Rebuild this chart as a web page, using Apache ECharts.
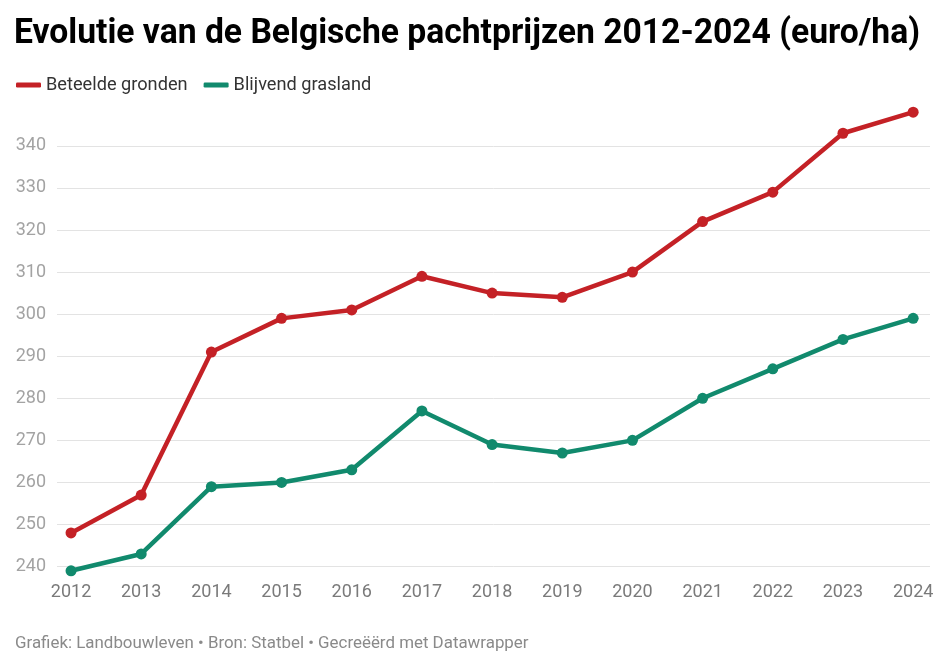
<!DOCTYPE html>
<html>
<head>
<meta charset="utf-8">
<script src="https://cdn.jsdelivr.net/npm/echarts@6/dist/echarts.min.js"></script>
<style>html,body{margin:0;padding:0;background:#fff;}#c{width:951px;height:669px;}</style>
</head>
<body>
<div id="c"></div>
<script>
var years = [2012,2013,2014,2015,2016,2017,2018,2019,2020,2021,2022,2023,2024];
var beteelde = [248,257,291,299,301,309,305,304,310,322,329,343,348];
var grasland = [239,243,259,260,263,277,269,267,270,280,287,294,299];
var yTicks = [240,250,260,270,280,290,300,310,320,330,340];
var titleText = 'Evolutie van de Belgische pachtprijzen 2012-2024 (euro/ha)';
var footerText = 'Grafiek: Landbouwleven \u2022 Bron: Statbel \u2022 Gecre\u00eb\u00ebrd met Datawrapper';

function pairs(vals){ return years.map(function(y,i){ return [y, vals[i]]; }); }

var cv = document.createElement('canvas').getContext('2d');
cv.font = 'bold 35px Roboto';
var tw = cv.measureText(titleText).width;
var sx = 906 / tw;

var chart = echarts.init(document.getElementById('c'), null, {renderer:'canvas'});
chart.setOption({
  backgroundColor:'#fff',
  animation:false,
  graphic:[
    {type:'text', left:14, top:17, scaleX:sx, style:{text:titleText, font:'bold 35px Roboto', fill:'#000'}},
    {type:'text', left:15, top:635, style:{text:footerText, font:'16.9px Roboto', fill:'#8a8a8a'}}
  ],
  legend:{
    left:11, top:71, itemWidth:25, itemHeight:5, itemGap:16,
    icon:'roundRect',
    textStyle:{fontFamily:'Roboto', fontSize:18.2, color:'#333'},
    data:['Beteelde gronden','Blijvend grasland']
  },
  grid:{left:57, right:21, top:108, height:467, containLabel:false},
  xAxis:{
    type:'value', min:2011.8, max:2024.24,
    axisLine:{show:false}, axisTick:{show:false, customValues:years}, splitLine:{show:false},
    axisLabel:{customValues:years, margin:8, fontFamily:'Roboto', fontSize:18, color:'#7a7a7a', formatter:function(v){return String(v);}}
  },
  yAxis:{
    type:'value', min:238, max:349,
    axisLine:{show:false}, axisTick:{show:false, customValues:yTicks},
    splitLine:{show:true, lineStyle:{color:'#e3e3e3', width:1}},
    axisLabel:{customValues:yTicks, margin:11, fontFamily:'Roboto', fontSize:18, color:'#a3a3a3'}
  },
  series:[
    {name:'Beteelde gronden', type:'line', data:pairs(beteelde), color:'#c42126',
     lineStyle:{width:4.5}, symbol:'circle', symbolSize:11, clip:false, z:3},
    {name:'Blijvend grasland', type:'line', data:pairs(grasland), color:'#118a6d',
     lineStyle:{width:4.5}, symbol:'circle', symbolSize:11, clip:false, z:2}
  ]
});
</script>
</body>
</html>
